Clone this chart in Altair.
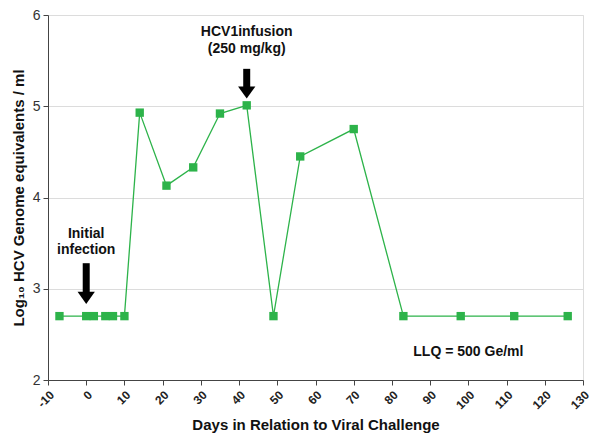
import altair as alt
import pandas as pd

days = [-7, 0, 2, 5, 7, 10, 14, 21, 28, 35, 42, 49, 56, 70, 83, 98, 112, 126]
log_vals = [2.7, 2.7, 2.7, 2.7, 2.7, 2.7, 4.93, 4.13, 4.33, 4.92, 5.01, 2.7, 4.45, 4.75, 2.7, 2.7, 2.7, 2.7]

x_ticks = list(range(-10, 131, 10))
y_ticks = [2, 3, 4, 5, 6]

ann_x = [0, 0, 42, 42, 100]
ann_y = [3.6, 3.42, 5.81, 5.63, 2.31]
ann_text = ["Initial", "infection", "HCV1infusion", "(250 mg/kg)", "LLQ = 500 Ge/ml"]

arrow_x = [0, 42]
arrow_top = [3.28, 5.41]
arrow_bottom = [2.95, 5.19]
arrow_head = [2.90, 5.15]

FONT = "Liberation Sans"
GREEN = "#2db34a"
X_TITLE = "Days in Relation to Viral Challenge"
Y_TITLE = "Log₁₀ HCV Genome equivalents / ml"

df = pd.DataFrame({"day": days, "val": log_vals})
ann = pd.DataFrame({"x": ann_x, "y": ann_y, "t": ann_text})
arr = pd.DataFrame({"x": arrow_x, "top": arrow_top, "bot": arrow_bottom, "head": arrow_head})

xs = alt.Scale(domain=[-10, 130], nice=False)
ys = alt.Scale(domain=[2, 6], nice=False)

x_axis = alt.Axis(values=x_ticks, title=X_TITLE,
                  labelAngle=-45, labelFontWeight="bold", labelFontSize=12,
                  labelFont=FONT, labelColor="#222", grid=False,
                  labelExpr="'' + datum.value",
                  labelOverlap=False, labelBound=False,
                  titleFont=FONT, titleFontSize=15, titleFontWeight="bold",
                  titleColor="#111", titlePadding=7, tickSize=5,
                  domainColor="#444", tickColor="#444", labelPadding=4)
y_axis = alt.Axis(values=y_ticks, title=Y_TITLE,
                  labelFontSize=14, labelFont=FONT, labelColor="#333", format="d",
                  labelOverlap=False,
                  grid=True, gridColor="#dcdcdc", tickSize=5,
                  titleFont=FONT, titleFontSize=15, titleFontWeight="bold",
                  titleColor="#111", titlePadding=6,
                  domainColor="#444", tickColor="#444", labelPadding=3)

ax_x = lambda f: alt.X(f, scale=xs, axis=x_axis, title=X_TITLE)
ax_y = lambda f: alt.Y(f, scale=ys, axis=y_axis, title=Y_TITLE)

line = alt.Chart(df).mark_line(color=GREEN, strokeWidth=1.3).encode(
    x=ax_x("day:Q"), y=ax_y("val:Q"))
pts = alt.Chart(df).mark_point(shape="square", filled=True, opacity=1, size=70,
                               color=GREEN).encode(x=ax_x("day:Q"), y=ax_y("val:Q"))

texts = alt.Chart(ann).mark_text(font=FONT, fontSize=14, fontWeight="bold",
                                 color="#111").encode(
    x=ax_x("x:Q"), y=ax_y("y:Q"), text="t:N")

shaft = alt.Chart(arr).mark_rule(color="black", strokeWidth=7).encode(
    x=ax_x("x:Q"), y=ax_y("top:Q"), y2="bot:Q")
head = alt.Chart(arr).mark_point(shape="M-1,-0.7L1,-0.7L0,0.7Z", filled=True,
                                 opacity=1, size=300, color="black").encode(
    x=ax_x("x:Q"), y=ax_y("head:Q"))

chart = alt.layer(line, pts, shaft, head, texts).properties(
    width=535, height=365,
    autosize=alt.AutoSizeParams(type="none"),
    padding={"left": 40, "top": 7, "right": 7, "bottom": 54},
).configure_view(stroke=None).configure(background="white")

chart.save("out.html", embed_options={"renderer": "svg", "actions": False})
